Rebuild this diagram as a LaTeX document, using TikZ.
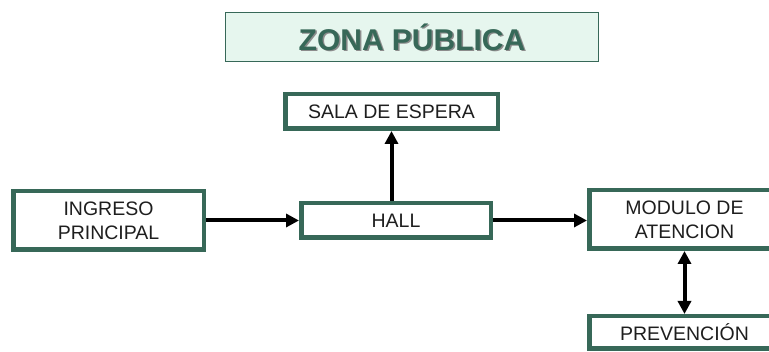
\documentclass[tikz,border=0pt]{standalone}
\usepackage{fontspec}
\setmainfont{Liberation Sans}
\usetikzlibrary{arrows.meta}
\definecolor{deepgreen}{RGB}{55,104,88}
\definecolor{palegreen}{RGB}{230,246,238}
\definecolor{inkgray}{RGB}{30,30,30}

\begin{document}
\begin{tikzpicture}[x=1pt,y=-1pt,
  area/.style={draw=deepgreen,line width=4.5pt,fill=white,text=inkgray,align=center,
    inner sep=0pt,font=\fontsize{19.5}{24}\selectfont},
  link/.style={line width=4pt,-{Triangle[length=13pt,width=13pt]}}]
  \useasboundingbox (0,0) rectangle (769,352);
  % title
  \node[draw=deepgreen,line width=1.5pt,fill=palegreen,minimum width=373pt,minimum height=49pt] (zona) at (412,37) {};
  \node[text=black!45,font=\bfseries\fontsize{30}{34}\selectfont] (zonashadow) at (413.5,38.5) {ZONA PÚBLICA};
  \node[text=deepgreen,font=\bfseries\fontsize{30}{34}\selectfont] (zonatext) at (412,37) {ZONA PÚBLICA};
  % areas
  \node[area,minimum width=190.5pt,minimum height=58.5pt] (ingreso) at (108.5,220.5) {INGRESO\\PRINCIPAL};
  \node[area,minimum width=189.5pt,minimum height=34.5pt] (hall) at (396,220.5) {HALL};
  \node[area,minimum width=212.5pt,minimum height=34.5pt] (sala) at (391.5,111.5) {SALA DE ESPERA};
  \node[area,minimum width=190.5pt,minimum height=58.5pt] (modulo) at (684.5,219.5) {MODULO DE\\ATENCION};
  \node[area,minimum width=190.5pt,minimum height=32.5pt] (prevencion) at (684.5,332.5) {PREVENCIÓN};
  % links
  \draw[link] (ingreso.east) -- (hall.west);
  \draw[link] (hall.east) -- (hall.east -| modulo.west);
  \draw[link] (sala.south |- hall.north) -- (sala.south);
  \draw[link,{Triangle[length=13pt,width=13pt]}-{Triangle[length=13pt,width=13pt]}] (modulo.south) -- (prevencion.north);
\end{tikzpicture}
\end{document}
